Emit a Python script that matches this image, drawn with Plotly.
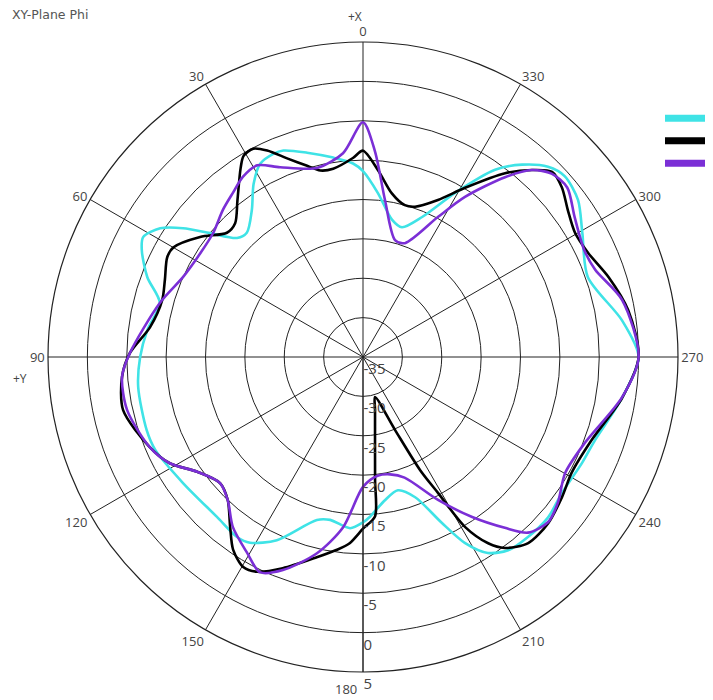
import plotly.graph_objects as go

# ---- data (angle in degrees, value in dB) ----
cyan_theta = [0, 2.95, 8.5, 15.3, 21.1, 23.8, 28.0, 32.3, 37.1, 43.1, 46.6, 51.0, 54.4, 57.6, 61.4, 64.2,
              69.7, 75.1, 82.9, 90, 97.6, 108.7, 114.1, 125.0, 137.6, 145.0, 148.7, 154.8, 164.2, 168.6,
              175.7, 180, 182.5, 188.7, 194.7, 200.4, 205.4, 208.7, 212.5, 216.9, 222.5, 229.1, 235.6,
              244.2, 250.3, 261, 270, 278.1, 289.6, 299.5, 306.1, 311.9, 315.8, 320.4, 324.8, 330.7,
              337.1, 343.3, 348.0, 354.8, 360]
cyan_r = [-11.4, -10.4, -9.4, -8.1, -6.9, -6.8, -7.2, -9.0, -11.6, -13.4, -13.0, -10.0, -6.9, -4.5, -3.2, -3.8,
          -5.8, -8.3, -7.4, -6.7, -6.2, -6.0, -6.1, -7.1, -7.5, -7.1, -7.4, -9.3, -13.5, -13.9,
          -13.2, -14.0, -14.7, -16.6, -17.5, -16.0, -11.7, -8.1, -5.5, -4.3, -4.0, -3.9, -4.4,
          -4.1, -3.7, -1.7, 0.0, -1.8, -4.7, -3.0, -1.2, -0.6, -1.3, -3.3, -5.9, -11.1,
          -15.7, -17.8, -17.2, -14.1, -11.4]

black_theta = [0, 2.9, 9.0, 12.9, 16.3, 20.9, 24.9, 27.8, 30.7, 32.9, 38.7, 43.7, 47.6, 53.6, 59.9, 63.0,
               68.7, 74.2, 82.0, 89.0, 94.7, 102.5, 112.9, 118.8, 124.7, 131.4, 136.6, 142.0, 146.0,
               150.3, 153.8, 159.2, 167.0, 172.3, 175.9, 180, 184.3, 185.6, 188.2, 192.8, 196.7, 203.7,
               206.8, 208.9, 211.0, 213.9, 216.6, 221.6, 228.1, 234.9, 241.0, 250.1, 261, 270, 280,
               288, 294.8, 300.3, 305.6, 310.5, 314.4, 317.9, 322.3, 328.9, 334.5, 340.9, 344.6, 350.0,
               355.4, 360]
black_r = [-8.8, -9.7, -10.8, -10.7, -9.7, -8.0, -6.1, -5.1, -5.3, -6.4, -9.5, -11.5, -11.6, -9.3, -7.2, -7.1,
           -8.0, -8.5, -7.7, -5.4, -4.3, -3.8, -5.6, -7.0, -9.4, -10.8, -10.0, -7.6, -5.5,
           -4.3, -4.6, -6.3, -8.9, -10.3, -11.3, -13.2, -14.7, -19.3, -24.3, -28.1, -29.7, -24.9,
           -18.9, -15.3, -9.8, -6.5, -4.8, -3.4, -3.4, -4.1, -4.7, -4.1, -1.7, 0.0, -0.8,
           -2.2, -3.5, -3.8, -3.0, -1.8, -1.4, -3.0, -5.5, -9.9, -12.9, -14.8, -15.0, -13.9,
           -11.2, -8.8]

purple_theta = [0, 5.6, 13.7, 23.6, 28.9, 33.7, 38.4, 43.6, 50.4, 57.5, 66.0, 75.1, 89.0, 94.7, 102.7,
                112.9, 118.8, 124.7, 131.4, 136.6, 142.6, 149.4, 154.4, 159.4, 166.8, 173.3, 180, 187,
                193, 199, 207.7, 214.3, 219.7, 223.2, 228.3, 233.2, 240.1, 248.8, 261.2, 270, 282.4,
                290.6, 295.7, 303.4, 309.7, 314.2, 317.9, 321.7, 327.5, 331.8, 339.8, 344.7, 352.0,
                356.7, 360]
purple_r = [-5.2, -9.0, -10.3, -8.7, -7.2, -7.5, -8.4, -9.2, -10.3, -10.5, -10.0, -8.3, -5.4, -4.3, -4.3,
            -5.6, -7.0, -9.4, -10.8, -10.0, -7.8, -6.1, -4.7, -6.1, -9.4, -13.2, -18.5, -19.8,
            -19.7, -18.8, -14.5, -10.4, -6.8, -4.4, -3.5, -4.1, -5.4, -4.8, -1.7, 0.0, -1.3,
            -3.5, -3.8, -2.8, -1.3, -1.6, -3.0, -5.9, -10.9, -14.8, -19.6, -19.6, -14.9,
            -8.8, -5.2]

angle_ticks = [0, 30, 60, 90, 120, 150, 180, 210, 240, 270, 300, 330]
angle_labels = [str(a) for a in angle_ticks]
radial_ticks = [-35, -30, -25, -20, -15, -10, -5, 0, 5]
radial_labels = [str(v) for v in radial_ticks]
r_min, r_max = -35, 5

series = [
    ("cyan", cyan_theta, cyan_r, "#3fe3e6"),
    ("black", black_theta, black_r, "#000000"),
    ("purple", purple_theta, purple_r, "#7b2fd6"),
]

# ---- geometry (figure px; the page body adds an 8px offset on screen) ----
W, H = 713, 700
L, T, R, B = 20, 14, 23, 14
PW, PH = W - L - R, H - T - B
CX, CY, RAD = 355, 349, 315          # polar centre and radius
LABEL_SHIFT = 12                      # radial tick labels sit just below each ring
RAD2 = 332
px_per_unit = RAD / (r_max - r_min)


def dom_x(a, b):
    return [(a - L) / PW, (b - L) / PW]


def dom_y(top, bottom):
    return [(H - B - bottom) / PH, (H - B - top) / PH]


def px(fx):
    return (fx - L) / PW


def py(fy):
    return (H - B - fy) / PH


# the 180 label is set beside the radial "5" label, as in the original
angle_text = ["" if a == 180 else t for a, t in zip(angle_ticks, angle_labels)]

fig = go.Figure()
for name, th, rr, col in series:
    fig.add_trace(go.Scatterpolar(
        theta=th, r=rr, mode="lines", name=name, showlegend=False,
        line=dict(color=col, width=2.6, shape="spline", smoothing=0.8),
        hoverinfo="skip"))
# legend swatches (thick, no text)
for name, th, rr, col in series:
    fig.add_trace(go.Scatterpolar(
        theta=[None], r=[None], mode="lines", name=" ", showlegend=True,
        line=dict(color=col, width=7)))
# carrier for the second (label-only) polar subplot
fig.add_trace(go.Scatterpolar(theta=[None], r=[None], mode="lines", subplot="polar2",
                              showlegend=False, hoverinfo="skip"))

r2_min = r_min - LABEL_SHIFT / px_per_unit
r2_max = r2_min + RAD2 / px_per_unit

lab_font = dict(family="Open Sans, sans-serif", size=13, color="#444444")

fig.update_layout(
    width=W, height=H,
    margin=dict(l=L, r=R, t=T, b=B, autoexpand=False),
    paper_bgcolor="white", plot_bgcolor="white",
    title=dict(text="XY-Plane Phi", x=4 / W, xanchor="left", y=1 - 7 / H, yanchor="middle",
               font=dict(family="DejaVu Sans, sans-serif", size=12.5, color="#555555")),
    polar=dict(
        bgcolor="white",
        domain=dict(x=dom_x(CX - RAD, CX + RAD), y=dom_y(CY - RAD, CY + RAD)),
        angularaxis=dict(
            rotation=90, direction="counterclockwise",
            tickmode="array", tickvals=angle_ticks, ticktext=angle_text,
            showline=True, linecolor="#222222", linewidth=1.2,
            showgrid=True, gridcolor="#222222", gridwidth=1,
            ticks="", tickfont=lab_font,
        ),
        radialaxis=dict(
            range=[r_min, r_max], angle=270,
            tickmode="array", tickvals=radial_ticks, ticktext=radial_labels,
            showline=True, linecolor="#222222", linewidth=1,
            showgrid=True, gridcolor="#222222", gridwidth=1,
            ticks="", showticklabels=False,
        ),
    ),
    polar2=dict(
        bgcolor="rgba(0,0,0,0)",
        domain=dict(x=dom_x(CX - RAD2, CX + RAD2), y=dom_y(CY - RAD2, CY + RAD2)),
        angularaxis=dict(visible=False, rotation=90, direction="counterclockwise"),
        radialaxis=dict(
            range=[r2_min, r2_max], angle=270, side="counterclockwise",
            tickmode="array", tickvals=radial_ticks, ticktext=radial_labels,
            showline=False, showgrid=False, ticks="", tickangle=-90,
            tickfont=dict(family="Open Sans, sans-serif", size=15, color="#444444"),
        ),
    ),
    legend=dict(x=px(652), y=py(94), xanchor="left", yanchor="top",
                itemwidth=55, bgcolor="rgba(0,0,0,0)", tracegroupgap=0,
                font=dict(size=15)),
    annotations=[
        dict(text="+X", xref="paper", yref="paper", x=px(347), y=py(8),
             xanchor="center", yanchor="middle", showarrow=False,
             font=dict(family="Open Sans, sans-serif", size=12, color="#444444")),
        dict(text="+Y", xref="paper", yref="paper", x=px(12), y=py(370),
             xanchor="center", yanchor="middle", showarrow=False,
             font=dict(family="Open Sans, sans-serif", size=12, color="#444444")),
        dict(text=angle_labels[angle_ticks.index(180)], xref="paper", yref="paper",
             x=px(338), y=py(681), xanchor="center", yanchor="middle", showarrow=False,
             font=lab_font),
    ],
)

fig.write_html("out.html")
